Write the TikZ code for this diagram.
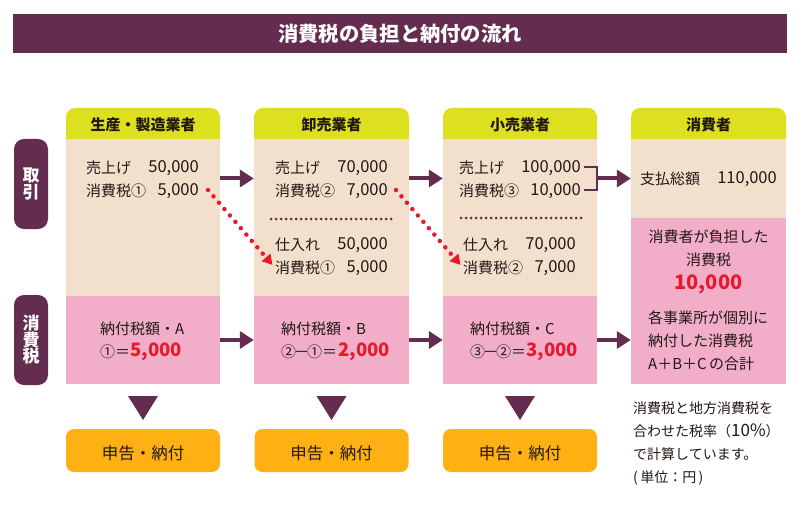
\documentclass[tikz,border=0pt]{standalone}
\usepackage{fontspec}
\setmainfont{Noto Sans CJK JP}
\usetikzlibrary{arrows.meta}
\definecolor{plum}{HTML}{642C4F}
\definecolor{lime}{HTML}{DDE01F}
\definecolor{sand}{HTML}{F3E0CC}
\definecolor{rose}{HTML}{F2AEC9}
\definecolor{amber}{HTML}{FFB013}
\definecolor{alert}{HTML}{E8192C}
\definecolor{ink}{HTML}{231815}
\newcommand{\minus}{\hspace{-2pt}－\hspace{-2pt}}
\tikzset{
    sandbox/.style={fill=sand,inner sep=0pt,minimum width=#1},
    rosebox/.style={fill=rose,inner sep=0pt,minimum width=#1},
    tagbox/.style={fill=plum,rounded corners=10pt,minimum width=34pt,inner sep=0pt,text=white,align=center,font=\fontsize{17}{16.5}\selectfont\bfseries},
    paybox/.style={fill=amber,rounded corners=8pt,minimum width=154pt,minimum height=43pt,inner sep=0pt},
    txt/.style={inner sep=0pt,text=ink,font=\fontsize{15}{18}\selectfont},
    amount/.style={inner sep=0pt,text=ink,font=\fontsize{16.5}{18}\selectfont},
    big/.style={inner sep=0pt,text=alert,font=\fontsize{18.5}{24}\selectfont\bfseries},
    flow/.style={plum,line width=4pt,-{Triangle[length=14pt,width=17pt]}},
    taxflow/.style={alert,line width=4.5pt,line cap=round,dash pattern=on 0pt off 8.4pt,-{Triangle[length=10pt,width=11pt]}},
    sep/.style={plum,line width=3pt,line cap=round,dash pattern=on 0pt off 5pt},
}
\begin{document}
\begin{tikzpicture}[x=1pt,y=-1pt]
    \useasboundingbox[fill=white] (0,0) rectangle (800,505);
    % title
    \node[fill=plum,minimum width=774pt,minimum height=39pt,inner sep=0pt,text=white,font=\fontsize{20.3}{24}\selectfont\bfseries] (title) at (400,33.5) {消費税の負担と納付の流れ};
    % left tags
    \node[tagbox,minimum height=90pt] (tagdeal) at (31,184) {取\\引};
    \node[tagbox,minimum height=90pt] (tagtax) at (31,340) {消\\費\\税};
    % column bodies
    \node[sandbox=154pt,minimum height=157pt] (sand1) at (143,217.5) {};
    \node[sandbox=155pt,minimum height=157pt] (sand2) at (331.5,217.5) {};
    \node[sandbox=154pt,minimum height=157pt] (sand3) at (520,217.5) {};
    \node[sandbox=155pt,minimum height=79pt] (sand4) at (708.5,178.5) {};
    \node[rosebox=154pt,minimum height=88pt] (rose1) at (143,340) {};
    \node[rosebox=155pt,minimum height=88pt] (rose2) at (331.5,340) {};
    \node[rosebox=154pt,minimum height=88pt] (rose3) at (520,340) {};
    \node[rosebox=155pt,minimum height=166pt] (rose4) at (708.5,301) {};
    % headers
    \foreach \lx/\rx/\nm/\lab in {66/220/head1/生産・製造業者,254/409/head2/卸売業者,443/597/head3/小売業者,631/786/head4/消費者}{
        \fill[lime] (\lx,139) [rounded corners=9pt] -- (\lx,108) -- (\rx,108) [sharp corners] -- (\rx,139) -- cycle;
        \node[txt,font=\fontsize{15}{18}\selectfont\bfseries] (\nm) at ({(\lx+\rx)/2},125) {\lab};
    }
    % amounts
    \foreach \nm/\lx/\rx/\y/\lab/\num in {
        a1/86/199/168/売上げ/{50,000},b1/86/199/191/消費税①/{5,000},
        a2/275/388/168/売上げ/{70,000},b2/275/388/191/消費税②/{7,000},
        c2/275/388/245/仕入れ/{50,000},d2/275/388/268/消費税①/{5,000},
        a3/459/581/168/売上げ/{100,000},b3/459/581/191/消費税③/{10,000},
        c3/463/576/245/仕入れ/{70,000},d3/463/576/268/消費税②/{7,000}}{
        \node[txt,anchor=west] (lab\nm) at (\lx,\y) {\lab};
        \node[amount,anchor=east] (num\nm) at (\rx,\y) {\num};
    }
    \node[txt,anchor=west] (labtotal) at (640,179) {支払総額};
    \node[amount,anchor=east] (numtotal) at (777,179) {110,000};
    % dotted separators
    \coordinate (sepa2) at (271,219);
    \coordinate (sepb2) at (393,219);
    \coordinate (sepa3) at (461,218);
    \coordinate (sepb3) at (583,218);
    \draw[sep] (sepa2)--(sepb2);
    \draw[sep] (sepa3)--(sepb3);
    % tax carried over
    \draw[taxflow] ([xshift=9pt,yshift=1pt]numb1.east)--([xshift=-2.5pt,yshift=3pt]labd2.west);
    \draw[taxflow] ([xshift=8pt,yshift=1pt]numb2.east)--([xshift=-2.5pt,yshift=3pt]labd3.west);
    % bracket
    \coordinate (brace) at (597,178.5);
    \draw[plum,line width=1.2pt] ([xshift=3pt,yshift=1pt]numa3.east)-|(brace)|-([xshift=3pt,yshift=1pt]numb3.east);
    % flow arrows
    \draw[flow] (sand1.east|-brace)--(sand2.west|-brace);
    \draw[flow] (sand2.east|-brace)--(sand3.west|-brace);
    \draw[flow] (brace)--(sand4.west|-brace);
    \draw[flow] (rose1.east)--(rose2.west);
    \draw[flow] (rose2.east)--(rose3.west);
    \draw[flow] (rose3.east)--(rose4.west|-rose3);
    % tax lines
    \node[txt,anchor=west] (taxa) at (100,329) {納付税額・A};
    \node[txt,anchor=west] (taxb) at (281,329) {納付税額・B};
    \node[txt,anchor=west] (taxc) at (470,329) {納付税額・C};
    \node[txt,anchor=west] (calca) at (100,352) {①＝};
    \node[txt,anchor=west] (calcb) at (281,352) {②\minus ①＝};
    \node[txt,anchor=west] (calcc) at (470,352) {③\minus ②＝};
    \node[big,anchor=east] (suma) at (182,352) {5,000};
    \node[big,anchor=east] (sumb) at (390,352) {2,000};
    \node[big,anchor=east] (sumc) at (578,352) {3,000};
    % consumer
    \node[txt] (burden) at (708.5,237) {消費者が負担した};
    \node[txt] (burdenb) at (708.5,260) {消費税};
    \node[big,font=\fontsize{20}{24}\selectfont\bfseries] (sumall) at (708.5,284) {10,000};
    \node[txt,anchor=west] (parta) at (648,318) {各事業所が個別に};
    \node[txt,anchor=west] (partb) at (648,341) {納付した消費税};
    \node[txt,anchor=west] (partc) at (648,364) {A＋B＋C\,の合計};
    % triangles and payment
    \foreach \cx/\nm in {143/pay1,331.5/pay2,520/pay3}{
        \fill[plum] (\cx-15,396)--(\cx+15,396)--(\cx,420)--cycle;
        \node[paybox] (\nm) at (\cx,450.5) {};
        \node[txt,font=\fontsize{16.5}{20}\selectfont] (\nm text) at (\cx,453) {申告・納付};
    }
    % note
    \node[txt,anchor=north west,align=left,font=\fontsize{14}{23}\selectfont] (note) at (633,401) {消費税と地方消費税を\\合わせた税率（{\fontsize{17}{23}\selectfont 10\%}）\\で計算しています。\\(\,単位：円\,)};
\end{tikzpicture}
\end{document}
